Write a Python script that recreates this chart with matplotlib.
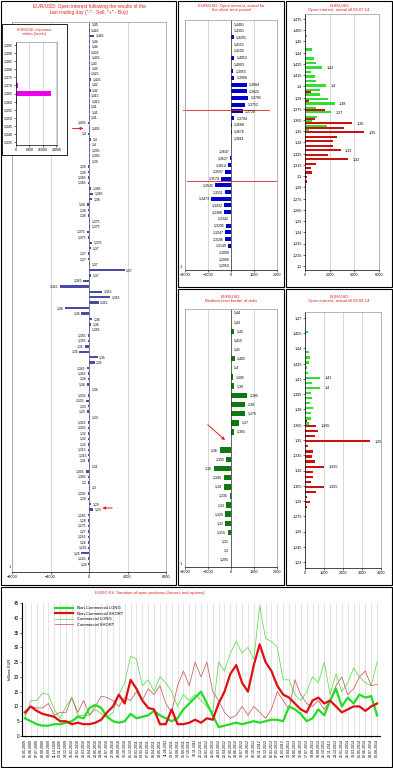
import numpy as np
import pandas as pd
import matplotlib
matplotlib.use('Agg')
import matplotlib.pyplot as plt
from matplotlib.patches import Rectangle
from matplotlib.lines import Line2D

plt.rcParams['font.family'] = ['Liberation Sans', 'DejaVu Sans']

W, H = 393, 768
RED = '#e02020'

# ---- left panel: open interest by strike after the last trading day ----
left_strikes = [1.45, 1.445, 1.445, 1.44, 1.44, 1.435, 1.435, 1.43, 1.43, 1.425,
                1.425, 1.42, 1.42, 1.415, 1.415, 1.41, 1.41, 1.41, 1.405, 1.405,
                1.4, 1.4, 1.4, 1.395, 1.395, 1.39, 1.39, 1.39, 1.385, 1.385,
                1.385, 1.385, 1.38, 1.38, 1.38, 1.38, 1.375, 1.375, 1.375, 1.375,
                1.375, 1.37, 1.37, 1.37, 1.37, 1.37, 1.37, 1.365, 1.365, 1.365,
                1.365, 1.365, 1.36, 1.36, 1.36, 1.36, 1.355, 1.355, 1.355, 1.35,
                1.35, 1.35, 1.35, 1.345, 1.345, 1.34, 1.34, 1.34, 1.335, 1.335,
                1.33, 1.33, 1.33, 1.325, 1.325, 1.32, 1.32, 1.32, 1.315, 1.315,
                1.31, 1.31, 1.305, 1.305, 1.3, 1.3, 1.295, 1.29, 1.29, 1.29,
                1.285, 1.28, 1.275, 1.27, 1.265, 1.26, 1.255, 1.25, 1.245, 1.24]
left_oi = [120, 60, 500, 90, 150, 70, 110, 80, 130, 60,
           200, 90, 160, 70, 140, 80, 100, 60, -150, 120,
           -100, 200, 150, 90, 130, 100, -120, -80, -150, -90,
           250, 400, 300, -200, -120, -90, 150, 100, -200, -100,
           350, 200, -150, -100, 150, 3700, 250, -600, -3000, 1400,
           2200, 1000, -2500, -800, 300, 200, 150, -150, -100, -400,
           -1000, 900, 600, -200, -150, -100, -250, 150, -100, -300,
           -120, -200, 150, -100, -150, -120, -90, -80, -100, -60,
           -80, 150, -300, -150, -100, 120, -120, -150, 200, 400,
           -100, -80, -120, -90, -100, -80, -70, -800, -90, -60]

# inset: important strikes (levels)
inset_strikes = [1.395, 1.39, 1.385, 1.38, 1.375, 1.37, 1.365, 1.36, 1.355, 1.35, 1.345, 1.34, 1.335]
inset_oi = [200, 200, 200, 200, 200, 900, 20500, 300, 200, 200, 200, 200, 200]
inset_ticks = ['1,395', '1,390', '1,385', '1,380', '1,375', '1,370', '1,365',
               '1,360', '1,355', '1,350', '1,345', '1,340', '1,335']

# ---- middle top: short-term period ----
mt_strikes = [1.4401, 1.4301, 1.4201, 1.4151, 1.4102, 1.4052, 1.4003, 1.3955, 1.3909,
              1.3884, 1.3822, 1.3785, 1.3752, 1.3728, 1.3704, 1.3688, 1.3676, 1.3661,
              1.3647, 1.3627, 1.3614, 1.3597, 1.3574, 1.3545, 1.3511, 1.3473, 1.3432,
              1.3388, 1.3342, 1.3295, 1.3247, 1.3196, 1.3149, 1.3099, 1.2999, 1.2950]
mt_oi = [10, 10, 120, 10, 10, 150, 10, 100, 150, 700, 700, 750, 620, 500, 150, 40, 40, 20,
         -20, -40, -150, -250, -450, -700, -250, -850, -300, -300, -20, -200, -250, -250,
         -120, -20, -20, -20]

# ---- middle bottom: medium-term border of risks ----
mb_strikes = [1.44, 1.43, 1.42, 1.415, 1.41, 1.405, 1.4, 1.395, 1.39, 1.385, 1.38, 1.375,
              1.37, 1.365, 1.36, 1.355, 1.35, 1.345, 1.34, 1.335, 1.33, 1.325, 1.32,
              1.315, 1.31, 1.3, 1.295]
mb_oi = [10, 10, 120, 10, 10, 160, 10, 90, 150, 700, 600, 600, 350, 150,
         -500, -200, -750, -300, -300, -50, -200, -250, -250, -150, -20, -20, -20]

# ---- right top: actual till 04.07.14 ----
rt_call_strikes = [1.47, 1.465, 1.455, 1.44, 1.43, 1.425, 1.42, 1.415, 1.41, 1.405, 1.4,
                   1.395, 1.39, 1.385, 1.38, 1.375, 1.37, 1.365, 1.36, 1.355, 1.35]
rt_calls = [100, 100, 200, 600, 700, 900, 1400, 500, 800, 900, 1700,
            1200, 1200, 1900, 2400, 900, 2100, 1000, 600, 1800, 300]
rt_put_strikes = [1.395, 1.385, 1.375, 1.365, 1.36, 1.355, 1.35, 1.345, 1.34, 1.335,
                  1.33, 1.325, 1.32, 1.315, 1.31, 1.305, 1.3, 1.295, 1.29, 1.285]
rt_puts = [500, 300, 1600, 800, 3800, 3200, 4800, 2600, 2300, 2300,
           2900, 1900, 3500, 900, 450, 600, 200, 150, 100, 50]
rt_call_marks = [1.42, 1.4, 1.38, 1.37]
rt_put_marks = [1.36, 1.35, 1.33, 1.32]
rt_ticklabels = ['1,2', '1,215', '1,225', '1,24', '1,25', '1,265', '1,275', '1,29', '1,3',
                 '1,315', '1,325', '1,34', '1,35', '1,365', '1,375', '1,39', '1,4', '1,415',
                 '1,425', '1,44', '1,45', '1,465', '1,475']

# ---- right bottom: actual till 08.08.14 ----
rb_call_strikes = [1.455, 1.435, 1.43, 1.425, 1.42, 1.415, 1.41, 1.405, 1.4, 1.395, 1.39,
                   1.385, 1.38, 1.375, 1.37, 1.365]
rb_calls = [150, 200, 250, 200, 100, 150, 800, 350, 800, 300, 350, 250, 400, 300, 300, 200]
rb_put_strikes = [1.37, 1.365, 1.36, 1.355, 1.35, 1.345, 1.34, 1.335, 1.33, 1.325, 1.32,
                  1.315, 1.31, 1.305, 1.3, 1.295, 1.29, 1.285]
rb_puts = [100, 600, 700, 500, 3400, 150, 400, 350, 550, 1000, 400, 400, 300, 1000, 600,
           100, 250, 100]
rb_call_marks = [1.41, 1.4]
rb_put_marks = [1.365, 1.35, 1.325, 1.305]
rb_ticklabels = ['1,23', '1,245', '1,26', '1,275', '1,29', '1,305', '1,32', '1,335', '1,35',
                 '1,365', '1,38', '1,395', '1,41', '1,425', '1,44', '1,455', '1,47']

# ---- bottom: EURO FX open positions, billions EUR ----
nc_long = [6, 5, 4, 3.5, 3.5, 4, 4, 4.5, 5, 6.5, 6, 9.5, 10.5, 9.5, 6.5, 5, 4.5, 5, 7.5, 6,
           6.5, 7, 8.5, 7, 6, 5, 6, 9, 11, 13, 15, 11, 7, 3, 3.5, 4, 4.5, 4, 4.5, 5,
           4.5, 5, 5.5, 5.5, 5, 10, 9, 7.5, 5, 6, 9, 7, 12, 16, 10, 13, 11, 14, 13, 13.5, 7]
nc_short = [8, 10, 8.5, 7.5, 7, 6.5, 5, 5, 4, 4.5, 4, 4, 4.5, 5.5, 8, 10, 14, 11, 19, 16,
            12, 9.5, 9, 4, 4, 9, 4, 4, 4.5, 5.5, 4.5, 6, 5.5, 11, 15, 21, 24, 18, 15, 24,
            31, 25, 22, 17, 14, 13, 11, 9, 8, 12, 13, 11, 12, 10, 8, 9, 10, 10, 8.5, 10, 11]
c_long = [6, 12, 12, 14.5, 14, 9, 6, 10, 13, 7, 7, 7, 9, 7.5, 6.5, 8, 14, 18, 27, 26,
          17, 19, 15, 20, 18, 15, 10, 14, 12, 14, 12, 10, 8, 25, 22, 28, 32, 28, 30, 26,
          44, 33, 32, 30, 19, 19, 14, 12, 15, 20, 18, 25, 14, 21, 15, 18, 23, 20, 18, 17, 25]
c_short = [7, 10, 9.5, 9.5, 11, 7, 8, 8, 13, 8, 12, 7, 10, 13.5, 13, 12, 10, 13, 12, 15,
           12, 16, 14, 17, 11, 8, 17, 22, 17, 25, 20, 25, 15, 12, 8, 6, 7, 10, 7, 10,
           8, 6, 9, 15, 12, 9, 19, 14, 11, 10, 12, 9, 12, 17, 20, 14, 16, 20, 22, 17, 17.5]
dates = pd.date_range('2009-05-05', '2014-08-05', periods=len(nc_long)).strftime('%d.%m.%Y')


def box(x0, y0, x1, y1):
    return [x0 / W, 1 - y1 / H, (x1 - x0) / W, (y1 - y0) / H]


def lab(v, nd=4, strip=True):
    s = ('%.' + str(nd) + 'f') % v
    if strip:
        s = s.rstrip('0').rstrip('.')
    return s.replace('.', ',')


def ftext(x, y, s, size=3.1, **kw):
    fig.text(x / W, 1 - y / H, s, ha='center', va='top', fontsize=size, color=RED,
             linespacing=1.15, **kw)


def style(ax, size=2.7):
    for sp in ax.spines.values():
        sp.set_color('#999999')
        sp.set_linewidth(0.5)
    ax.spines['bottom'].set_color('black')
    ax.tick_params(labelsize=size, length=1.2, width=0.4, pad=1)
    ax.grid(axis='x', color='#c8c8c8', lw=0.5)
    ax.set_axisbelow(True)


fig = plt.figure(figsize=(W / 100, H / 100), dpi=100)

for b in [(1, 1, 176, 585), (178, 1, 284, 287), (178, 289, 284, 585),
          (286, 1, 392, 287), (286, 289, 392, 585), (1, 587, 392, 767)]:
    fig.add_artist(Rectangle((b[0] / W, 1 - b[3] / H), (b[2] - b[0]) / W, (b[3] - b[1]) / H,
                             transform=fig.transFigure, fill=False, ec='black', lw=0.8))

# left panel
ftext(89, 4, 'EUR/USD: Open interest following the results of the\n'
             'last trading day ("-" - Sell, "+" - Buy)', size=3.5)
ax = fig.add_axes(box(12, 22, 166, 572))
rows = np.arange(len(left_strikes))
ax.barh(rows, left_oi, height=0.45, color='#4a4aa8')
ax.axvline(0, color='#555588', lw=0.5)
for r, s, v in zip(rows, left_strikes, left_oi):
    if v < 0:
        ax.text(v - 150, r, lab(s), ha='right', va='center', fontsize=2.4)
    else:
        ax.text(v + 150, r, lab(s), ha='left', va='center', fontsize=2.4)
ax.set_xlim(-8000, 8000)
ax.set_ylim(len(rows) + 0.45, -0.55)
ax.set_xticks([-8000, -4000, 0, 4000, 8000])
ax.set_yticks([])
style(ax)
ax.text(-0.01, 0.005, '1', transform=ax.transAxes, ha='right', va='bottom', fontsize=2.7)
arrow = dict(arrowstyle='-|>', color=RED, lw=0.7, mutation_scale=4)
ax.annotate('', xy=(-300, 19), xytext=(-2000, 19), arrowprops=arrow)
ax.annotate('', xy=(1100, 88.7), xytext=(2700, 88.7), arrowprops=arrow)

# inset
fig.add_artist(Rectangle((2 / W, 1 - 155 / H), 65 / W, 131 / H, transform=fig.transFigure,
                         fc='white', ec='black', lw=0.6, zorder=1))
ftext(34, 28, 'EUR/USD: important\nstrikes (levels)', size=2.7)
axi = fig.add_axes(box(16, 42, 57, 145), zorder=2)
axi.barh(inset_strikes, inset_oi, height=0.0035, color='#ee00ee')
axi.set_ylim(1.3331, 1.3969)
axi.set_xlim(0, 24300)
axi.set_yticks(inset_strikes)
axi.set_yticklabels(inset_ticks)
axi.set_xticks([0, 8000, 16000, 24000])
style(axi, 2.5)
axi.spines['left'].set_color('black')

# middle top
ftext(231, 4, 'EUR/USD: Open interest, actual for\nthe short-term period')
ax = fig.add_axes(box(185, 20, 277, 270))
idx = np.arange(len(mt_strikes))
pos = idx + (idx >= 18)
ax.barh(pos, mt_oi, height=0.6, color='#0000cc')
ax.axvline(0, color='#333333', lw=0.5)
for p, s, v in zip(pos, mt_strikes, mt_oi):
    if v < 0:
        ax.text(v - 60, p, lab(s, 4, False), ha='right', va='center', fontsize=2.5)
    else:
        ax.text(v + 90, p, lab(s, 4, False), ha='left', va='center', fontsize=2.5)
ax.plot([-2100, 1650], [12.75, 12.75], color=RED, lw=0.6, clip_on=False)
ax.plot([-1900, 1950], [23.4, 23.4], color=RED, lw=0.6, clip_on=False)
ax.set_xlim(-2000, 2000)
ax.set_ylim(36.6, -0.6)
ax.set_xticks([-2000, -1000, 0, 1000, 2000])
ax.set_yticks([])
style(ax)
ax.text(-0.03, 0.005, '1', transform=ax.transAxes, ha='right', va='bottom', fontsize=2.7)

# middle bottom
ftext(231, 295, 'EUR/USD:\nMedium-term border of risks')
ax = fig.add_axes(box(185, 309, 277, 567))
idx = np.arange(len(mb_strikes))
pos = idx + (idx >= 14)
ax.barh(pos, mb_oi, height=0.6, color='#117711')
ax.axvline(0, color='#333333', lw=0.5)
for p, s, v in zip(pos, mb_strikes, mb_oi):
    if v < 0:
        ax.text(v - 80, p, lab(s), ha='right', va='center', fontsize=2.6)
    else:
        ax.text(v + 110, p, lab(s), ha='left', va='center', fontsize=2.6)
ax.annotate('', xy=(-170, 14.1), xytext=(-1100, 12.0), arrowprops=arrow, annotation_clip=False)
ax.set_xlim(-2000, 2000)
ax.set_ylim(27.77, -0.44)
ax.set_xticks([-2000, -1000, 0, 1000, 2000])
ax.set_yticks([])
style(ax)
ax.text(-0.03, 0.005, '1', transform=ax.transAxes, ha='right', va='bottom', fontsize=2.7)

# right top
ftext(339, 4, 'EUR/USD\nOpen interest, actual till 04.07.14')
ax = fig.add_axes(box(305, 14, 379, 270))
ax.barh(np.array(rt_call_strikes) + 0.0011, rt_calls, height=0.0026, color='#33dd33')
ax.barh(np.array(rt_put_strikes) - 0.0011, rt_puts, height=0.0026, color='#cc1111')
for s in rt_call_marks:
    ax.text(rt_calls[rt_call_strikes.index(s)] + 350, s + 0.0011, lab(s), fontsize=2.7, va='center')
for s in rt_put_marks:
    ax.text(rt_puts[rt_put_strikes.index(s)] + 350, s - 0.0011, lab(s), fontsize=2.7, va='center')
ax.set_ylim(1.1955, 1.4806)
ax.set_xlim(0, 6000)
ax.set_xticks([0, 2000, 4000, 6000])
ax.set_yticks(np.linspace(1.2, 1.475, len(rt_ticklabels)))
ax.set_yticklabels(rt_ticklabels)
style(ax)
ax.spines['left'].set_color('black')

# right bottom
ftext(339, 295, 'EUR/USD\nOpen interest, actual till 08.08.14')
ax = fig.add_axes(box(305, 312, 381, 568))
ax.barh(np.array(rb_call_strikes) + 0.0012, rb_calls, height=0.0022, color='#33dd33')
ax.barh(np.array(rb_put_strikes) - 0.0012, rb_puts, height=0.0022, color='#cc1111')
for s in rb_call_marks:
    ax.text(rb_calls[rb_call_strikes.index(s)] + 250, s + 0.0012, lab(s), fontsize=2.7, va='center')
for s in rb_put_marks:
    ax.text(rb_puts[rb_put_strikes.index(s)] + 250, s - 0.0012, lab(s), fontsize=2.7, va='center')
ax.set_ylim(1.2241, 1.4759)
ax.set_xlim(0, 4000)
ax.set_xticks([0, 1000, 2000, 3000, 4000])
ax.set_yticks(np.linspace(1.23, 1.47, len(rb_ticklabels)))
ax.set_yticklabels(rb_ticklabels)
style(ax)
ax.spines['left'].set_color('black')

# bottom chart
ftext(150, 591, 'EURO FX: Variation of open positions (futures and options)')
axb = fig.add_axes(box(22, 603, 380, 736))
x = np.arange(len(nc_long))
axb.plot(x, c_long, color='#66dd55', lw=0.6)
axb.plot(x, c_short, color='#cc6666', lw=0.6)
axb.plot(x, nc_long, color='#22dd22', lw=1.6)
axb.plot(x, nc_short, color='#dd1111', lw=1.6)
handles = [Line2D([], [], color='#22dd22', lw=1.6), Line2D([], [], color='#dd1111', lw=1.6),
           Line2D([], [], color='#66dd55', lw=0.6), Line2D([], [], color='#cc6666', lw=0.6)]
axb.legend(handles, ['Non-Commercial LONG', 'Non-Commercial SHORT', 'Commercial LONG',
                     'Commercial SHORT'], loc='upper left', bbox_to_anchor=(0.085, 0.99),
           frameon=False, fontsize=3.0, handlelength=4.5, labelspacing=0.35, borderpad=0)
axb.set_xlim(-0.5, len(x) - 0.5)
axb.set_ylim(0, 45)
axb.set_yticks(np.arange(0, 50, 5))
axb.set_xticks(x)
axb.set_xticklabels(dates, rotation=90, fontsize=2.6)
axb.tick_params(axis='y', labelsize=3.3, length=1.2, width=0.4, pad=1)
axb.tick_params(axis='x', length=1, width=0.4, pad=1)
axb.grid(axis='x', color='#d0d0d0', lw=0.4)
axb.set_axisbelow(True)
axb.spines['top'].set_visible(False)
axb.spines['right'].set_visible(False)
axb.set_ylabel('billions EUR', fontsize=2.8, labelpad=1)

fig.savefig('out.png', dpi=100)
